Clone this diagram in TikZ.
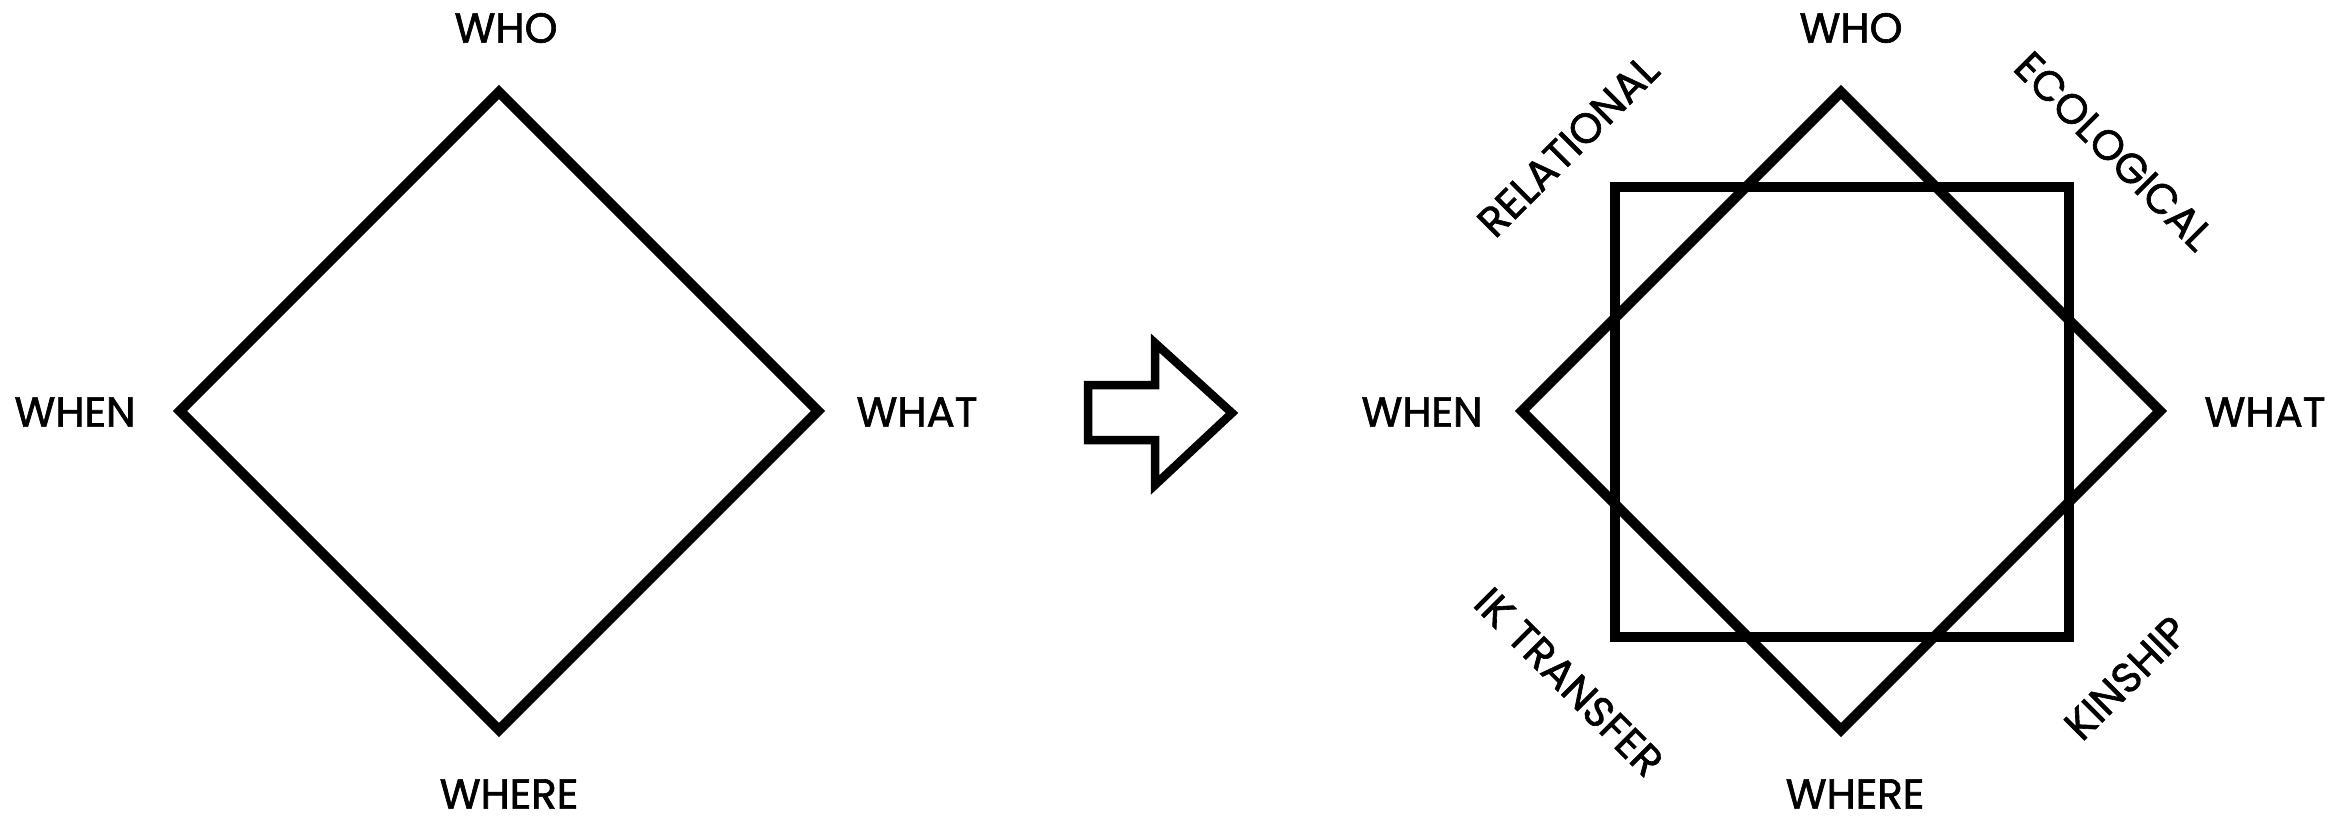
\documentclass[tikz,border=0pt]{standalone}
\usepackage{fontspec}
\setmainfont{Poppins}[FakeBold=1.5]
\begin{document}
\begin{tikzpicture}[x=1pt,y=-1pt,
  shapeline/.style={line width=10pt, line join=miter, draw=black},
  arrowline/.style={line width=8.5pt, line join=miter, draw=black},
  lbl/.style={font=\fontsize{42}{44}\selectfont, inner sep=0pt, anchor=center}]
\useasboundingbox (0,0) rectangle (2349,816);
% left diamond
\coordinate (LT) at (499,92);
\coordinate (LR) at (818,411);
\coordinate (LB) at (499,730);
\coordinate (LL) at (180,411);
\draw[shapeline] (LT) -- (LR) -- (LB) -- (LL) -- cycle;
\node[lbl] (lwho) at (506,28) {WHO};
\node[lbl] (lwhen) at (75,412) {WHEN};
\node[lbl] (lwhat) at (917,412) {WHAT};
\node[lbl] (lwhere) at (509,794) {WHERE};
% arrow
\draw[arrowline] (1088,385) -- (1155,385) -- (1155,343) -- (1232,413) -- (1155,485) -- (1155,440) -- (1088,440) -- cycle;
% right diamond
\coordinate (RT) at (1841,92);
\coordinate (RR) at (2160,411);
\coordinate (RB) at (1841,730);
\coordinate (RL) at (1522,411);
\draw[shapeline] (RT) -- (RR) -- (RB) -- (RL) -- cycle;
% square
\coordinate (SA) at (1615,187);
\coordinate (SB) at (2069,637);
\draw[shapeline] (SA) rectangle (SB);
\node[lbl] (rwho) at (1851,28) {WHO};
\node[lbl] (rwhen) at (1422,412) {WHEN};
\node[lbl] (rwhat) at (2265,412) {WHAT};
\node[lbl] (rwhere) at (1855,794) {WHERE};
\node[lbl, rotate=45] (rel) at (1568,146) {RELATIONAL};
\node[lbl, rotate=-45] (eco) at (2114,151) {ECOLOGICAL};
\node[lbl, rotate=-45] (ikt) at (1569,682) {IK TRANSFER};
\node[lbl, rotate=45] (kin) at (2126,678) {KINSHIP};
\end{tikzpicture}
\end{document}
